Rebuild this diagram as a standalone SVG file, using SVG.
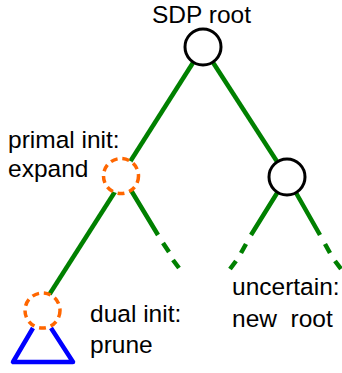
<svg xmlns="http://www.w3.org/2000/svg" width="342" height="373" viewBox="0 0 342 373">
<style>
text{font-family:"Liberation Sans",Arial,sans-serif;font-size:24.5px;fill:#000}
.e{stroke:#008000;stroke-width:4.5;fill:none}
.n{fill:#fff;stroke:#000;stroke-width:3}
.o{fill:#fff;stroke:#ff6600;stroke-width:3.5;stroke-dasharray:7 4.9}
</style>
<rect width="342" height="373" fill="#fff"/>
<g id="connectors">
<line class="e" x1="203" y1="47" x2="121" y2="176"/>
<line class="e" x1="203" y1="47" x2="287" y2="177"/>
<line class="e" x1="125" y1="176" x2="42" y2="306"/>
<path class="e" d="M123,177 L158,235 M163,243 L169,252 M173,260 L179,268"/>
<path class="e" d="M287,177 L251,235 M246,244 L241,253 M236,261 L230,269"/>
<path class="e" d="M287,177 L320,235 M325,244 L330,253 M335,261 L341,269"/>
</g>
<g id="prune">
<path d="M33,328 L13,362 L73,362 L51,328" fill="none" stroke="#0000ff" stroke-width="4.5" stroke-linejoin="round"/>
</g>
<g id="root">
<circle class="n" cx="203" cy="47" r="18"/>
<text x="152" y="23">SDP root</text>
</g>
<g id="right">
<circle class="n" cx="287" cy="177" r="18"/>
</g>
<g id="primal">
<circle class="o" cx="121" cy="176" r="17.5"/>
<text x="8" y="148">primal init:</text>
<text x="8" y="177">expand</text>
</g>
<g id="dual">
<circle class="o" cx="42.5" cy="310.5" r="17.5"/>
<text x="90" y="322">dual init:</text>
<text x="90" y="353">prune</text>
</g>
<g id="uncertain">
<text x="232" y="295">uncertain:</text>
<text x="232" y="327" xml:space="preserve">new  root</text>
</g>
</svg>
